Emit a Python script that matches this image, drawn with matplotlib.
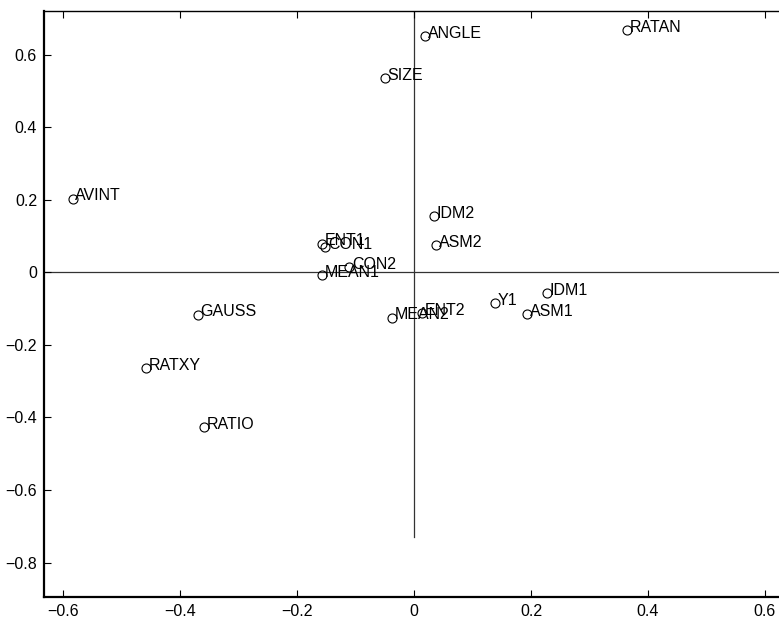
import matplotlib
matplotlib.use("Agg")
import matplotlib.pyplot as plt

plt.rcParams['font.family'] = ['Liberation Sans', 'DejaVu Sans']

# Loadings on the first two components
labels = ["AVINT", "ANGLE", "RATAN", "SIZE", "IDM2", "ASM2", "ENT1", "CON1",
          "CON2", "MEAN1", "ENT2", "MEAN2", "Y1", "IDM1", "ASM1", "GAUSS",
          "RATXY", "RATIO"]
pc1 = [-0.584, 0.019, 0.364, -0.050, 0.034, 0.038, -0.158, -0.152,
       -0.111, -0.158, 0.013, -0.037, 0.138, 0.227, 0.194, -0.370,
       -0.459, -0.360]
pc2 = [0.203, 0.650, 0.667, 0.534, 0.154, 0.074, 0.079, 0.070,
       0.015, -0.008, -0.112, -0.125, -0.086, -0.057, -0.116, -0.117,
       -0.264, -0.426]

xticks = [-0.6, -0.4, -0.2, 0, 0.2, 0.4, 0.6]
yticks = [-0.8, -0.6, -0.4, -0.2, 0, 0.2, 0.4, 0.6]
xlim = (-0.633, 0.65)
ylim = (-0.895, 0.72)
vline_bottom = -0.73

fig = plt.figure(figsize=(7.79, 6.18), dpi=100)
ax = fig.add_axes([44 / 779, 21 / 618, (794 - 44) / 779, (607 - 21) / 618])

# reference axes through the origin
ax.axhline(0, color='#333333', lw=0.9, zorder=1)
ax.plot([0, 0], [vline_bottom, ylim[1]], color='#333333', lw=0.9, zorder=1)

ax.plot(pc1, pc2, linestyle='none', marker='o', markersize=6.5,
        markerfacecolor='none', markeredgecolor='black', markeredgewidth=0.8,
        zorder=3)
for lab, x, y in zip(labels, pc1, pc2):
    ax.annotate(lab, (x, y), xytext=(2, 2), textcoords='offset points',
                ha='left', va='center', fontsize=11.5, color='black')

ax.set_xlim(*xlim)
ax.set_ylim(*ylim)
ax.set_xticks(xticks)
ax.set_yticks(yticks)
ax.set_xticklabels(['0' if v == 0 else f"{v:g}".replace('-', '\u2212') for v in xticks])
ax.set_yticklabels(['0' if v == 0 else f"{v:g}".replace('-', '\u2212') for v in yticks])
ax.tick_params(direction='in', length=5, width=0.8, top=True, right=True,
               labelsize=11.5, pad=5)
for side in ['left', 'bottom']:
    ax.spines[side].set_linewidth(1.6)
ax.spines['top'].set_linewidth(1.0)

fig.savefig("out.png", dpi=100)
